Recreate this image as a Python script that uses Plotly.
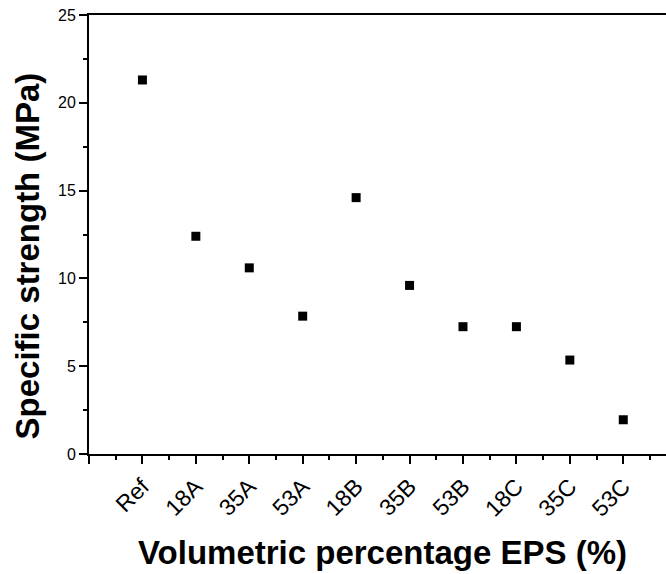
import plotly.graph_objects as go

# Sample groups and their specific strength (MPa)
samples = ["Ref", "18A", "35A", "53A", "18B", "35B", "53B", "18C", "35C", "53C"]
strength = [21.3, 12.4, 10.6, 7.85, 14.6, 9.6, 7.25, 7.25, 5.35, 1.95]

y_ticks = [0, 5, 10, 15, 20, 25]

positions = list(range(1, len(samples) + 1))
FONT = "Liberation Sans, Arial, sans-serif"

fig = go.Figure()
fig.add_trace(go.Scatter(
    x=positions,
    y=strength,
    mode="markers",
    marker=dict(symbol="square", size=9, color="black"),
    showlegend=False,
))

fig.update_layout(
    width=666,
    height=574,
    margin=dict(l=89, r=0, t=15, b=120),
    paper_bgcolor="white",
    plot_bgcolor="white",
    font=dict(family=FONT, color="black"),
    xaxis=dict(
        range=[0, 10.8],
        tickvals=[0] + positions,
        ticktext=[""] + samples,
        tickangle=-45,
        tickfont=dict(size=23, family=FONT, color="black"),
        ticks="outside",
        ticklen=8,
        tickwidth=2,
        tickcolor="black",
        minor=dict(dtick=0.5, tick0=0, ticks="outside", ticklen=4, tickwidth=2, tickcolor="black"),
        showline=True,
        linewidth=2,
        linecolor="black",
        mirror=True,
        showgrid=False,
        zeroline=False,
    ),
    yaxis=dict(
        range=[0, 25],
        tickvals=y_ticks,
        tickfont=dict(size=16, family=FONT, color="black"),
        ticks="outside",
        ticklen=8,
        tickwidth=2,
        tickcolor="black",
        minor=dict(dtick=2.5, tick0=0, ticks="outside", ticklen=4, tickwidth=2, tickcolor="black"),
        showline=True,
        linewidth=2,
        linecolor="black",
        showgrid=False,
        zeroline=False,
    ),
    annotations=[
        dict(
            text="<b>Volumetric percentage EPS (%)</b>",
            xref="paper", yref="paper",
            x=0.5095, y=0, yshift=-98,
            xanchor="center", yanchor="middle",
            showarrow=False,
            font=dict(size=33, family=FONT, color="black"),
        ),
        dict(
            text="<b>Specific strength (MPa)</b>",
            xref="paper", yref="paper",
            x=0, xshift=-62, y=0.45,
            xanchor="center", yanchor="middle",
            textangle=-90,
            showarrow=False,
            font=dict(size=33, family=FONT, color="black"),
        ),
    ],
)

fig.write_html("out.html")
